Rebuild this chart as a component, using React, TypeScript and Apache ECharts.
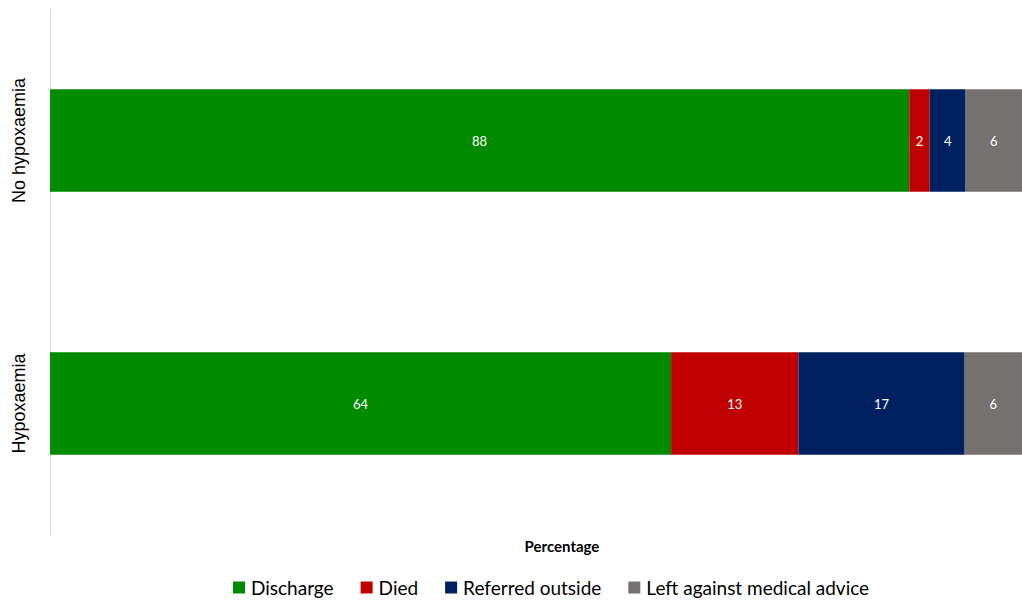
import React, { useEffect, useRef } from "react";
import * as echarts from "echarts";

const categories = ["No hypoxaemia", "Hypoxaemia"];
const seriesNames = ["Discharge", "Died", "Referred outside", "Left against medical advice"];
const discharge = [88.4, 63.9];
const died = [2.1, 13.1];
const referred = [3.7, 17.1];
const leftAMA = [5.8, 5.9];
const colors = ["#008A00", "#C00000", "#002060", "#767171"];

const FONT = "Lato, 'Noto Sans', sans-serif";

export default function App() {
  const ref = useRef<HTMLDivElement>(null);
  useEffect(() => {
    if (!ref.current) return;
    const chart = echarts.init(ref.current, null, { renderer: "svg" });
    const values = [discharge, died, referred, leftAMA];
    chart.setOption({
      animation: false,
      textStyle: { fontFamily: FONT },
      legend: {
        top: 573,
        left: 228,
        itemWidth: 12,
        itemHeight: 12,
        itemGap: 27,
        icon: "rect",
        textStyle: { fontSize: 19, color: "#000", fontFamily: FONT, padding: [0, 0, 0, 1] },
        data: seriesNames,
      },
      grid: { left: 50, right: 0, top: 9, bottom: 67, containLabel: false },
      xAxis: {
        type: "value",
        min: 0,
        max: 100,
        axisLabel: { show: false },
        axisLine: { show: false },
        axisTick: { show: false },
        splitLine: { show: false },
        name: "Percentage",
        nameLocation: "middle",
        nameGap: 3,
        nameTextStyle: {
          fontWeight: "bold",
          fontSize: 15,
          color: "#000",
          fontFamily: FONT,
          padding: [0, 0, 0, 52],
        },
      },
      yAxis: {
        type: "category",
        inverse: true,
        data: categories,
        axisLine: { show: true, lineStyle: { color: "#d9d9d9", width: 1 } },
        axisTick: { show: false },
        axisLabel: {
          rotate: 90,
          fontSize: 18,
          color: "#000",
          margin: 22,
          fontFamily: "'Liberation Sans', Arial, sans-serif",
        },
      },
      series: seriesNames.map((name, i) => ({
        name,
        type: "bar",
        stack: "total",
        barWidth: "39%",
        data: values[i],
        itemStyle: { color: colors[i] },
        label: {
          show: true,
          position: "inside",
          color: "#fff",
          fontSize: 13,
          fontFamily: FONT,
          formatter: (p: any) => String(Math.round(p.value)),
        },
      })),
    });
    return () => chart.dispose();
  }, []);
  return (
    <div
      ref={ref}
      style={{ position: "fixed", left: 0, top: 0, width: 1022, height: 602, background: "#fff" }}
    />
  );
}
